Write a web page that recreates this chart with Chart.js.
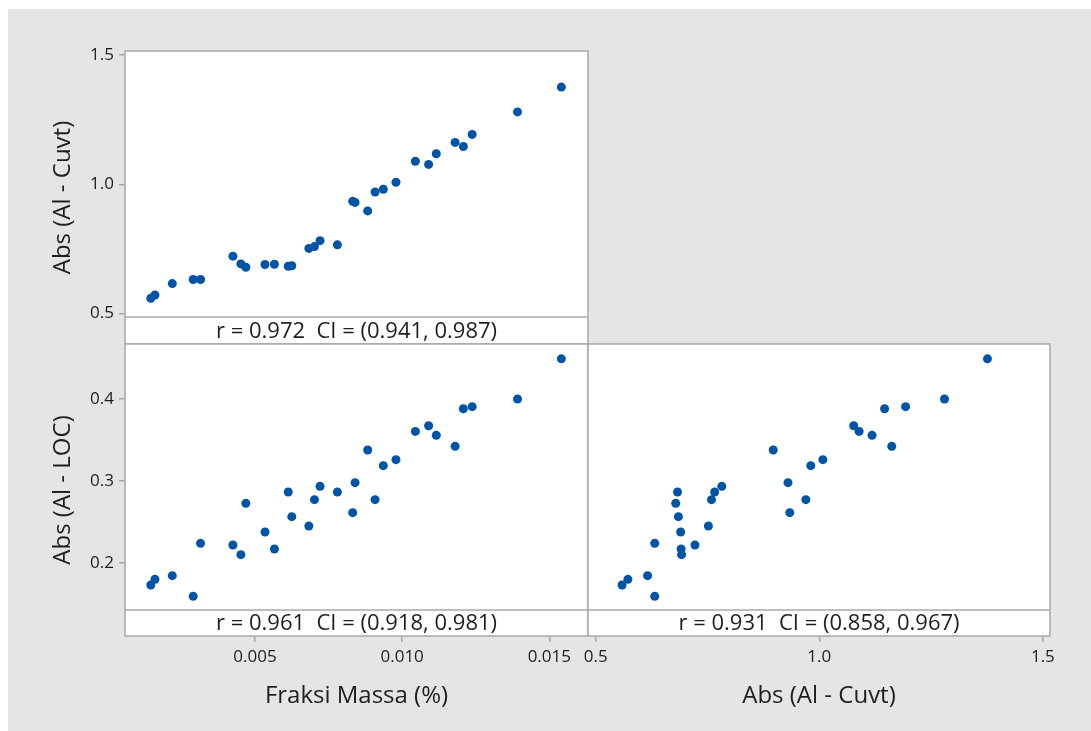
<!DOCTYPE html>
<html>
<head>
<meta charset="utf-8">
<script src="https://cdn.jsdelivr.net/npm/chart.js@4.4.1/dist/chart.umd.min.js"></script>
<style>
    html, body { margin: 0; padding: 0; background: #fff; }
    #frame { position: absolute; left: 8px; top: 9px; width: 1083px; height: 722px; background: #e5e5e5; }
    canvas { position: absolute; left: 0; top: 0; }
</style>
</head>
<body>
<div id="frame"></div>
<canvas id="tl" width="1091" height="731"></canvas>
<canvas id="bl" width="1091" height="731"></canvas>
<canvas id="br" width="1091" height="731"></canvas>
<script>
// Data (one entry per sample)
const fraksiMassa = [0.00146, 0.00160, 0.00219, 0.00290, 0.00315, 0.00425, 0.00452, 0.00469, 0.00534, 0.00566,
                     0.00613, 0.00625, 0.00683, 0.00702, 0.00721, 0.00780, 0.00832, 0.00840, 0.00883, 0.00908,
                     0.00936, 0.00979, 0.01045, 0.01090, 0.01116, 0.01180, 0.01208, 0.01238, 0.01392, 0.01541];
const absCuvt = [0.559, 0.572, 0.616, 0.632, 0.632, 0.722, 0.692, 0.679, 0.690, 0.691,
                 0.683, 0.685, 0.752, 0.759, 0.782, 0.766, 0.934, 0.930, 0.897, 0.970,
                 0.981, 1.008, 1.089, 1.077, 1.118, 1.162, 1.146, 1.193, 1.280, 1.376];
const absLoc = [0.1734, 0.1803, 0.1848, 0.1596, 0.2241, 0.2221, 0.2103, 0.2728, 0.2379, 0.2172,
                0.2866, 0.2566, 0.2452, 0.2773, 0.2935, 0.2866, 0.2615, 0.2980, 0.3377, 0.2773,
                0.3187, 0.3260, 0.3604, 0.3673, 0.3556, 0.3422, 0.3880, 0.3905, 0.3998, 0.4487];

// Tick values and labels
const fraksiTicks = [0.005, 0.010, 0.015];
const fraksiTickLabels = ['0.005', '0.010', '0.015'];
const cuvtTicks = [0.5, 1.0, 1.5];
const cuvtTickLabels = ['0.5', '1.0', '1.5'];
const locTicks = [0.2, 0.3, 0.4];
const locTickLabels = ['0.2', '0.3', '0.4'];

// Correlation strips
const corrLabels = {
    cuvtVsFraksi: 'r = 0.972  CI = (0.941, 0.987)',
    locVsFraksi: 'r = 0.961  CI = (0.918, 0.981)',
    locVsCuvt: 'r = 0.931  CI = (0.858, 0.967)'
};

const FONT = "'Open Sans', 'Noto Sans', sans-serif";
const TEXT = '#1e1e1e';
const EDGE = '#a8a8a8';
const DOT = '#0054a6';
const STRIP_H = 26;

// Panel background, correlation strip and frame
const panelPlugin = {
    id: 'panel',
    beforeDraw(chart) {
        const { ctx, chartArea: a } = chart;
        ctx.save();
        ctx.fillStyle = '#fff';
        ctx.fillRect(a.left, a.top, a.right - a.left, a.bottom - a.top);
        ctx.restore();
    },
    afterDraw(chart, args, opts) {
        const { ctx, chartArea: a } = chart;
        const stripTop = a.bottom - opts.stripHeight;
        ctx.save();
        ctx.fillStyle = '#fff';
        ctx.fillRect(a.left, stripTop, a.right - a.left, opts.stripHeight);
        ctx.strokeStyle = EDGE;
        ctx.lineWidth = 1.5;
        ctx.beginPath();
        ctx.moveTo(a.left, stripTop);
        ctx.lineTo(a.right, stripTop);
        ctx.stroke();
        ctx.strokeRect(a.left, a.top, a.right - a.left, a.bottom - a.top);
        ctx.fillStyle = TEXT;
        ctx.font = '22px ' + FONT;
        ctx.textAlign = 'center';
        ctx.textBaseline = 'middle';
        ctx.fillText(opts.text, (a.left + a.right) / 2, stripTop + opts.stripHeight / 2 + 1);
        ctx.restore();
    }
};

function tickAxis(values, labels, range, extra) {
    return Object.assign({
        type: 'linear',
        min: range[0],
        max: range[1],
        afterBuildTicks: s => { s.ticks = values.map(v => ({ value: v })); },
        ticks: {
            autoSkip: false,
            maxRotation: 0,
            color: TEXT,
            font: { family: FONT, size: 17 },
            padding: 5,
            callback: (v, i) => labels[i]
        },
        grid: { drawOnChartArea: false, drawTicks: true, tickLength: 6, color: EDGE, lineWidth: 1.5 },
        border: { display: false }
    }, extra || {});
}

function axisTitle(text) {
    return { display: true, text: text, color: TEXT, font: { family: FONT, size: 24 }, padding: 0 };
}

function makePanel(id, xs, ys, xAxis, yAxis, padding, strip) {
    const points = xs.map((x, i) => ({ x: x, y: ys[i] }));
    return new Chart(document.getElementById(id), {
        type: 'scatter',
        data: {
            datasets: [{
                data: points,
                backgroundColor: DOT,
                borderColor: DOT,
                pointRadius: 4.5,
                pointBorderWidth: 0
            }]
        },
        options: {
            responsive: false,
            animation: false,
            layout: { padding: padding },
            plugins: {
                legend: { display: false },
                tooltip: { enabled: false },
                panel: strip
            },
            scales: { x: xAxis, y: yAxis }
        },
        plugins: [panelPlugin]
    });
}

// Visible ranges of each axis (panel area includes the strip at its foot)
const fraksiRange = [0.000583, 0.016315];
const cuvtXRange = [0.4828, 1.5159];
const cuvtYRange = [0.3824, 1.5155];
const locRange = [0.11132, 0.46677];

document.addEventListener('DOMContentLoaded', () => {
    // Top-left: Abs (Al - Cuvt) vs Fraksi Massa
    makePanel('tl', fraksiMassa, absCuvt,
        tickAxis(fraksiTicks, fraksiTickLabels, fraksiRange, { display: false }),
        tickAxis(cuvtTicks, cuvtTickLabels, cuvtYRange, {
            title: axisTitle('Abs (Al - Cuvt)'),
            afterFit: s => { s.width = 76; }
        }),
        { left: 49, top: 51, right: 503, bottom: 387 },
        { text: corrLabels.cuvtVsFraksi, stripHeight: 27 });

    // Bottom-left: Abs (Al - LOC) vs Fraksi Massa
    makePanel('bl', fraksiMassa, absLoc,
        tickAxis(fraksiTicks, fraksiTickLabels, fraksiRange, {
            title: axisTitle('Fraksi Massa (%)'),
            afterFit: s => { s.height = 75; }
        }),
        tickAxis(locTicks, locTickLabels, locRange, {
            title: axisTitle('Abs (Al - LOC)'),
            afterFit: s => { s.width = 76; }
        }),
        { left: 49, top: 344, right: 503, bottom: 20 },
        { text: corrLabels.locVsFraksi, stripHeight: STRIP_H });

    // Bottom-right: Abs (Al - LOC) vs Abs (Al - Cuvt)
    makePanel('br', absCuvt, absLoc,
        tickAxis(cuvtTicks, cuvtTickLabels, cuvtXRange, {
            title: axisTitle('Abs (Al - Cuvt)'),
            afterFit: s => { s.height = 75; }
        }),
        tickAxis(locTicks, locTickLabels, locRange, { display: false }),
        { left: 588, top: 344, right: 41, bottom: 20 },
        { text: corrLabels.locVsCuvt, stripHeight: STRIP_H });
});
</script>
</body>
</html>
